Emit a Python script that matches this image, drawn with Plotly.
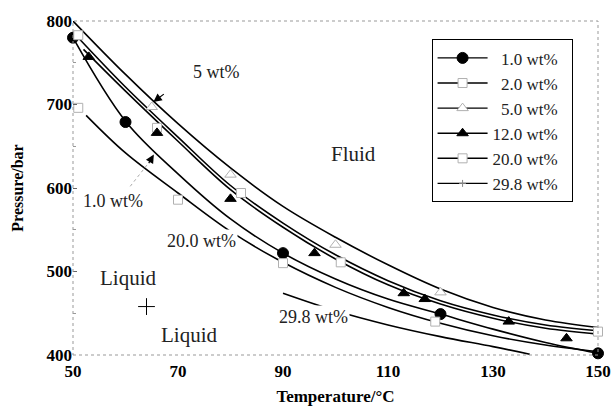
import plotly.graph_objects as go

# ---- marker data ----
series_names = ["1.0 wt%", "2.0 wt%", "5.0 wt%", "12.0 wt%", "20.0 wt%", "29.8 wt%"]

x_1 = [50, 60, 90, 120, 150]
y_1 = [780, 679, 522, 449, 402]
x_2 = [51, 66, 82, 101, 150]
y_2 = [783, 672, 594, 511, 428]
x_5 = [65, 80, 100, 120]
y_5 = [697, 616, 532, 475]
x_12 = [53, 66, 80, 96, 113, 117, 133, 144]
y_12 = [757, 666, 587, 522, 474, 467, 440, 420]
x_20 = [51, 70, 90, 119]
y_20 = [696, 586, 510, 440]
x_29 = [64]
y_29 = [458]

# ---- fitted curves (in picture) ----
cx_5 = [50, 60, 70, 80, 90, 100, 110, 120, 130, 140, 150]
cy_5 = [800, 736, 677, 624, 578, 541, 508, 479, 457, 442, 433]
cx_2 = [51, 60, 70, 80, 90, 100, 110, 120, 130, 140, 150]
cy_2 = [780, 721, 661, 603, 558, 520, 489, 465, 448, 436, 429]
cx_12 = [52, 60, 70, 80, 90, 100, 110, 120, 130, 140, 150]
cy_12 = [766, 716, 656, 598, 553, 515, 484, 461, 444, 432, 425]
cx_1 = [50, 60, 70, 80, 90, 100, 110, 120, 130, 140, 150]
cy_1 = [780, 680, 617, 563, 522, 491, 467, 449, 431, 415, 402]
cx_20 = [52.5, 60, 70, 80, 90, 100, 110, 120, 130, 140, 150]
cy_20 = [687, 642, 594, 548, 511, 481, 457, 438, 423, 412, 404]
cx_29 = [90, 100, 110, 120, 130, 137]
cy_29 = [474, 453, 436, 422, 410, 401]

x_ticks = [50, 70, 90, 110, 130, 150]
y_ticks = [400, 500, 600, 700, 800]

SERIF = "Liberation Serif, Times New Roman, serif"
fig = go.Figure()

# curves
for cx, cy in [(cx_5, cy_5), (cx_2, cy_2), (cx_12, cy_12), (cx_1, cy_1), (cx_20, cy_20), (cx_29, cy_29)]:
    fig.add_trace(go.Scatter(x=cx, y=cy, mode="lines", line=dict(color="black", width=1.6, shape="spline"),
                             showlegend=False, hoverinfo="skip"))

styles = [
    dict(symbol="circle", size=11, color="black", line=dict(color="black", width=1)),
    dict(symbol="square", size=9, color="white", line=dict(color="#b0b0b0", width=1)),
    dict(symbol="triangle-up", size=10, color="white", line=dict(color="#b0b0b0", width=1)),
    dict(symbol="triangle-up", size=10, color="black", line=dict(color="black", width=1)),
    dict(symbol="square", size=9, color="white", line=dict(color="#b0b0b0", width=1)),
    dict(symbol="cross-thin", size=12, color="black", line=dict(color="black", width=1)),
]
legend_styles = styles[:5] + [dict(symbol="cross-thin", size=5, color="#888", line=dict(color="#888", width=1))]
data = [(x_1, y_1), (x_2, y_2), (x_5, y_5), (x_12, y_12), (x_20, y_20), (x_29, y_29)]

for (xs, ys), st in zip(data, styles):
    fig.add_trace(go.Scatter(x=xs, y=ys, mode="markers", marker=st, showlegend=False,
                             cliponaxis=False))

# legend entries
legend_labels = ["\u20071.0 wt%\u2007", "\u20072.0 wt%\u2007", "\u20075.0 wt%\u2007",
                 "12.0 wt%\u2007", "20.0 wt%\u2007", "29.8 wt%\u2007"]
for lab, st in zip(legend_labels, legend_styles):
    fig.add_trace(go.Scatter(x=[None], y=[None], mode="lines+markers", name=lab,
                             marker=st, line=dict(color="black", width=1.4)))

ann_font = dict(family=SERIF, size=18, color="#222")
big_font = dict(family=SERIF, size=21, color="#222")
annotations = [
    dict(x=77.3, y=739, text="5 wt%", showarrow=False, font=ann_font),
    dict(x=57.6, y=584, text="1.0 wt%", showarrow=False, font=ann_font),
    dict(x=74.4, y=537, text="20.0 wt%", showarrow=False, font=ann_font, bgcolor="white"),
    dict(x=95.8, y=446, text="29.8 wt%", showarrow=False, font=ann_font, bgcolor="white"),
    dict(x=103.5, y=641, text="Fluid", showarrow=False, font=big_font),
    dict(x=60.5, y=492, text="Liquid", showarrow=False, font=big_font),
    dict(x=72.1, y=424, text="Liquid", showarrow=False, font=big_font),
    # arrows
    dict(x=65.3, y=703, ax=12, ay=-9, text="", showarrow=True, arrowhead=2, arrowsize=1.4,
         arrowwidth=1.2, arrowcolor="black"),
    dict(x=65.4, y=640, ax=-6, ay=10, text="", showarrow=True, arrowhead=2, arrowsize=1.4,
         arrowwidth=1.2, arrowcolor="black"),
]

fig.update_layout(
    width=616, height=410,
    margin=dict(l=73, r=18, t=21, b=55),
    paper_bgcolor="white", plot_bgcolor="white",
    font=dict(family=SERIF, color="black"),
    annotations=annotations,
    shapes=[
        dict(type="rect", xref="paper", yref="paper", x0=0, y0=0, x1=1, y1=1,
             line=dict(color="#999", width=1, dash="dot")),
        dict(type="line", x0=60.9, y0=602, x1=64.4, y1=630, line=dict(color="#aaa", width=1, dash="dot")),
    ],
    legend=dict(x=0.683, y=0.945, xanchor="left", yanchor="top", bgcolor="white",
                bordercolor="black", borderwidth=1, font=dict(family=SERIF, size=17, color="#222"),
                itemwidth=50),
    xaxis=dict(range=[50, 150], tickvals=x_ticks, showgrid=False, zeroline=False, showline=False,
               ticks="", ticklabelstandoff=4, automargin=False,
               tickfont=dict(family=SERIF, size=17, color="black", weight="bold"),
               title=dict(text="Temperature/°C", font=dict(family=SERIF, size=17, color="black", weight="bold"),
                          standoff=10)),
    yaxis=dict(range=[400, 800], tickvals=y_ticks, showgrid=False, zeroline=False, showline=False,
               ticks="inside", ticklen=4, tickcolor="#666", automargin=False,
               minor=dict(dtick=50, ticks="inside", ticklen=3, tickcolor="#999"),
               tickfont=dict(family=SERIF, size=17, color="black", weight="bold"),
               title=dict(text="Pressure/bar", font=dict(family=SERIF, size=16, color="black", weight="bold"),
                          standoff=18)),
)

fig.write_html("out.html")
